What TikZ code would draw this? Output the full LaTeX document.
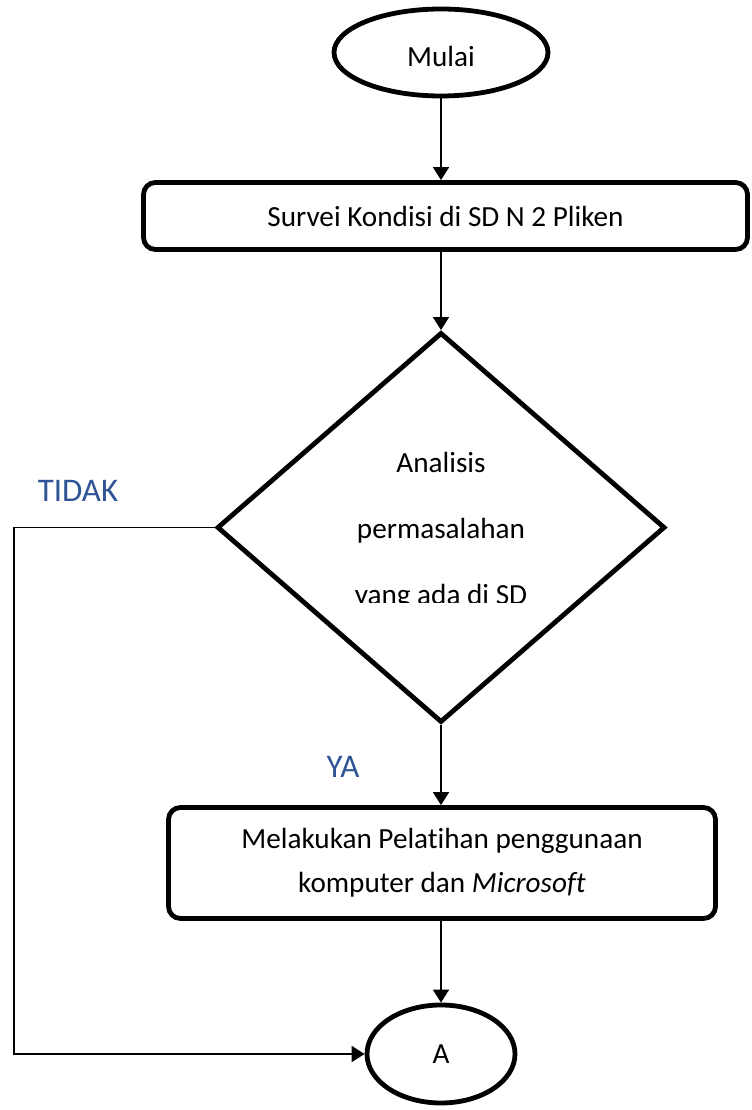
\documentclass[tikz,border=0pt]{standalone}
\usepackage{fontspec}
\setmainfont{Carlito}[Ligatures=NoCommon]
\usetikzlibrary{shapes.geometric,arrows.meta}
\definecolor{labelblue}{RGB}{47,84,150}
\begin{document}
\begin{tikzpicture}[x=0.5pt,y=0.5pt,
  font=\fontsize{14.6pt}{22pt}\selectfont,
  startstop/.style={ellipse, draw=black, line width=2.4pt, inner sep=0pt},
  process/.style={rectangle, rounded corners=6pt, draw=black, line width=2.4pt, inner sep=0pt, align=center},
  decision/.style={diamond, draw=black, line width=2.4pt, inner sep=0pt},
  flow/.style={line width=0.9pt, -{Triangle[length=6.5pt,width=8pt]}},
  answer/.style={text=labelblue, anchor=base, font=\fontsize{16.5pt}{20pt}\selectfont}]
\useasboundingbox (0,0) rectangle (751,1110);
% shapes
\node [startstop, minimum width=107pt, minimum height=43.5pt, text height=14pt] (mulai) at (441,1057.5) {Mulai};
\node [process, minimum width=302pt, minimum height=33.5pt] (survei) at (445.5,894) {Survei Kondisi di SD N 2 Pliken};
\node [decision, minimum width=224pt, minimum height=195pt] (analisis) at (441,582.5) {};
\node [process, minimum width=273.5pt, minimum height=55.5pt] (pelatihan) at (442,247) {Melakukan Pelatihan penggunaan\\komputer dan \textit{Microsoft}};
\node [startstop, minimum width=74pt, minimum height=49pt] (konektorA) at (441,56) {A};
% text inside the decision, cut off at the bottom
\begin{scope}
\clip (300,507) rectangle (600,700);
\node [align=center, font=\fontsize{14.6pt}{33pt}\selectfont] (analisisTeks) at (441,579) {Analisis\\permasalahan\\yang ada di SD};
\end{scope}
% answers
\node [answer] (tidak) at (78,608) {TIDAK};
\node [answer] (ya) at (343,332) {YA};
% connectors
\coordinate (tidakBelok) at (14,582.5);
\draw [flow] (mulai) -- (survei.north -| mulai);
\draw [flow] (survei.south -| analisis) -- (analisis);
\draw [flow] (analisis) -- (pelatihan.north -| analisis);
\draw [flow] (pelatihan.south -| konektorA) -- (konektorA);
\draw [flow] (analisis.west) -- (tidakBelok) |- (konektorA.west);
\end{tikzpicture}
\end{document}
